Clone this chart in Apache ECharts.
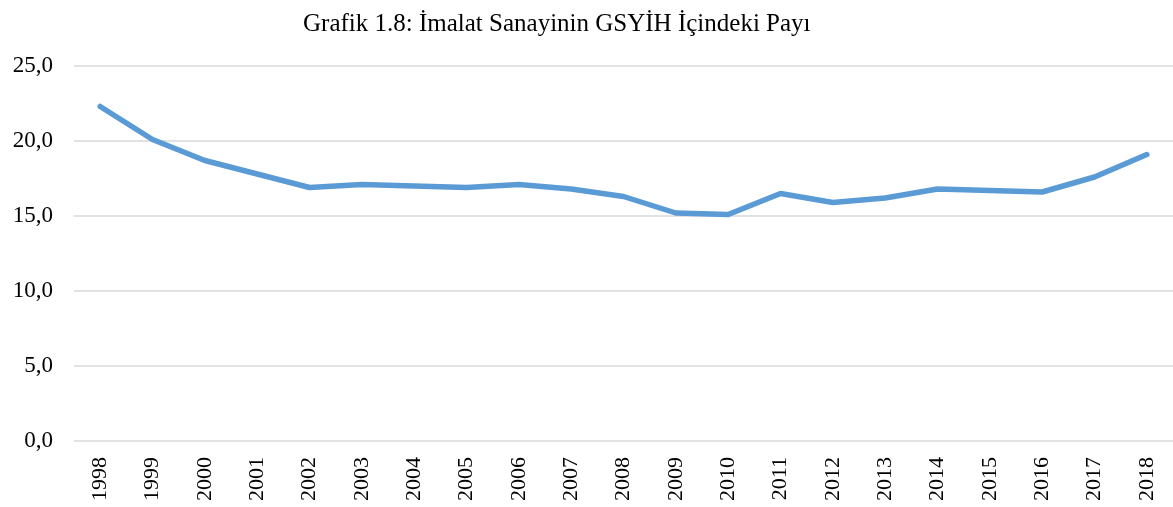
<!DOCTYPE html>
<html>
<head>
<meta charset="utf-8">
<script src="https://cdn.jsdelivr.net/npm/echarts@6/dist/echarts.min.js"></script>
<style>
  html, body { margin: 0; padding: 0; background: #fff; }
  #chart { width: 1173px; height: 507px; }
</style>
</head>
<body>
<div id="chart"></div>
<script>
// İmalat sanayinin GSYİH içindeki payı (%)
const years = ['1998', '1999', '2000', '2001', '2002', '2003', '2004', '2005', '2006', '2007', '2008',
  '2009', '2010', '2011', '2012', '2013', '2014', '2015', '2016', '2017', '2018']
const shares = [22.3, 20.1, 18.7, 17.8, 16.9, 17.1, 17.0, 16.9, 17.1, 16.8, 16.3,
  15.2, 15.1, 16.5, 15.9, 16.2, 16.8, 16.7, 16.6, 17.6, 19.1]

const FONT = "'Liberation Serif','Times New Roman',serif"
const TEXT = '#000'
const GRID = '#d9d9d9'
const LINE = '#5b9bd5'

const chart = echarts.init(document.getElementById('chart'))
chart.setOption({
  animation: false,
  textStyle: { fontFamily: FONT },
  title: {
    text: 'Grafik 1.8: İmalat Sanayinin GSYİH İçindeki Payı',
    left: 298,
    top: 7,
    textStyle: { fontFamily: FONT, fontSize: 25, fontWeight: 'normal', color: TEXT },
  },
  grid: { left: 74, right: 0, top: 66, bottom: 66 },
  xAxis: {
    type: 'category',
    data: years,
    boundaryGap: true,
    axisLine: { show: false },
    axisTick: { show: false },
    axisLabel: { rotate: 90, margin: 16, fontFamily: FONT, fontSize: 22, color: TEXT },
  },
  yAxis: {
    type: 'value',
    min: 0,
    max: 25,
    interval: 5,
    axisLine: { show: false },
    axisTick: { show: false },
    splitLine: { lineStyle: { color: GRID, width: 1.5 } },
    axisLabel: {
      margin: 21,
      fontFamily: FONT,
      fontSize: 23,
      color: TEXT,
      formatter: (v) => v.toFixed(1).replace('.', ','),
    },
  },
  series: [{
    type: 'line',
    data: shares,
    symbol: 'none',
    lineStyle: { color: LINE, width: 5.5, cap: 'round', join: 'round' },
  }],
})
</script>
</body>
</html>
